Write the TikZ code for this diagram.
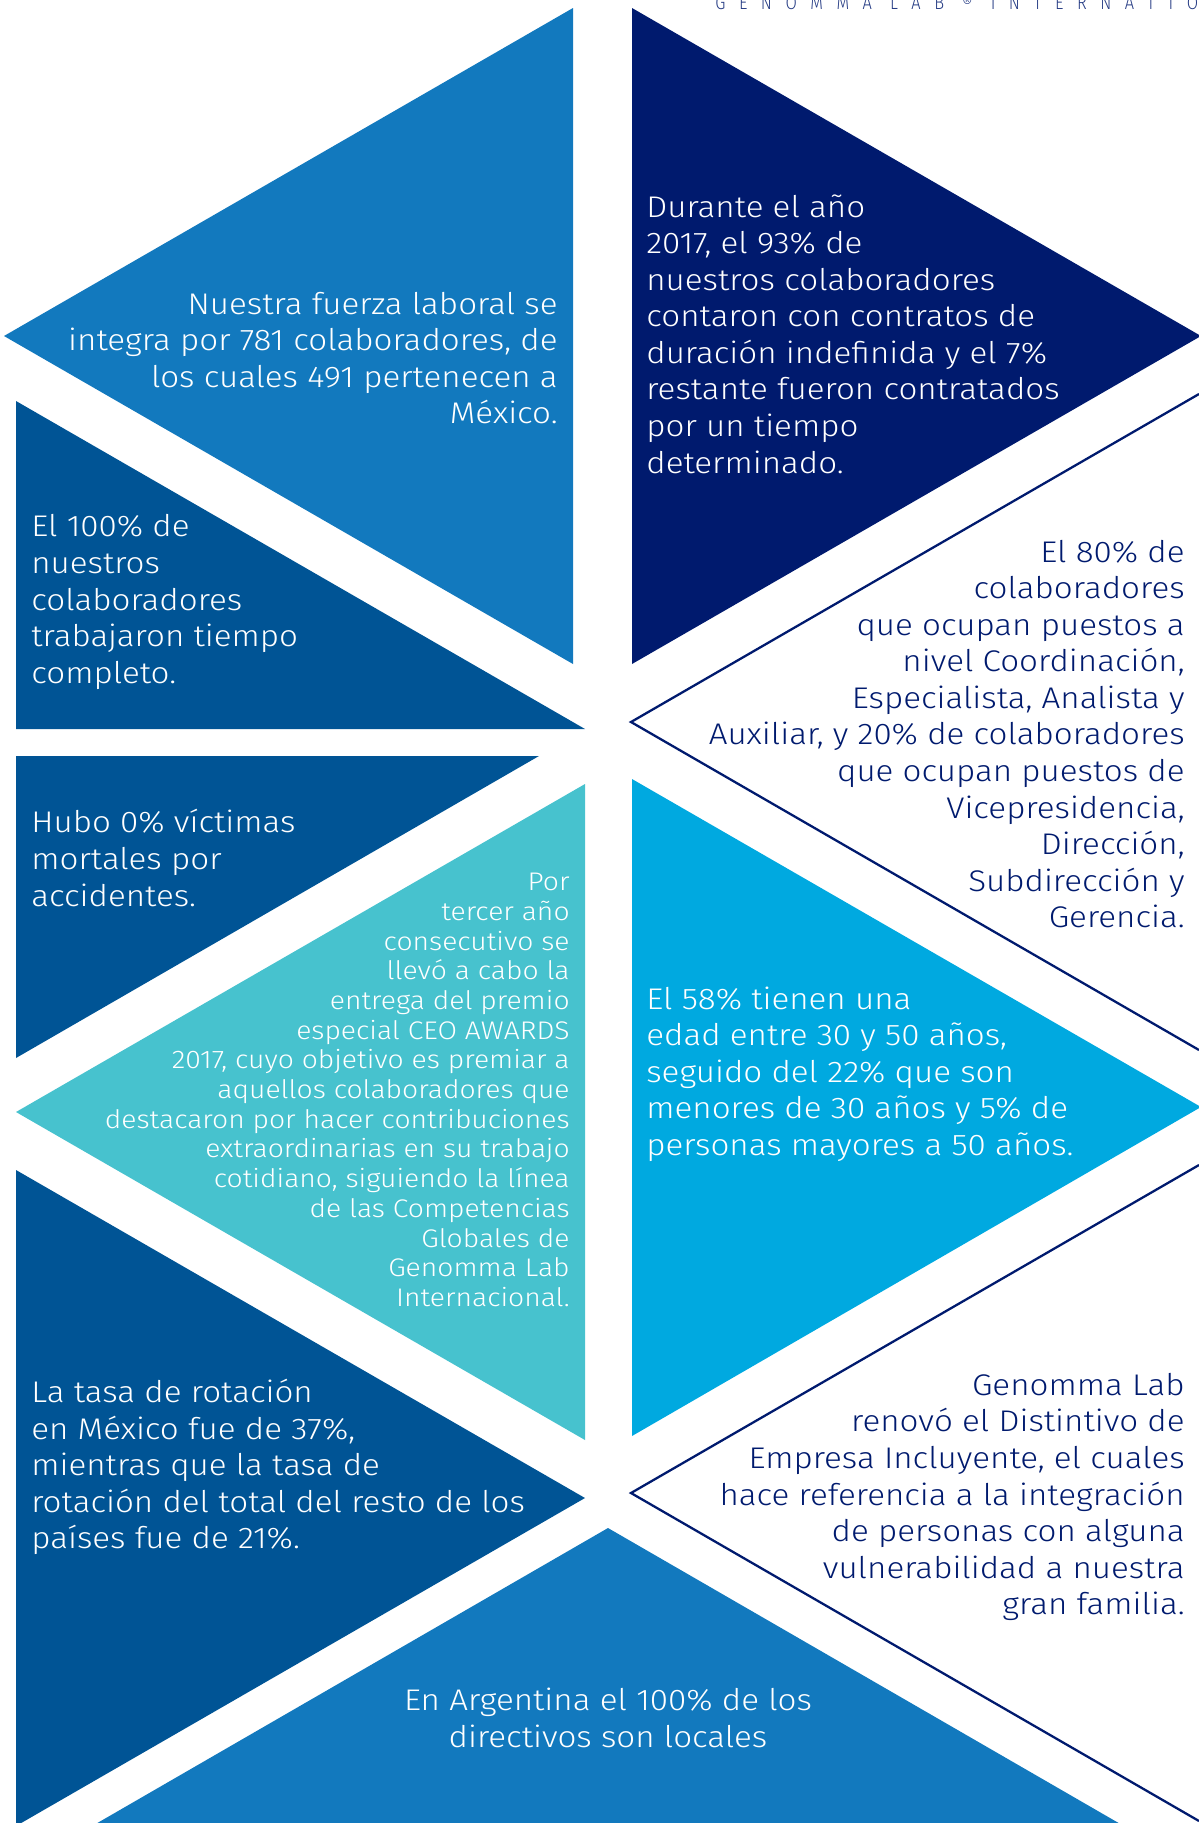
\documentclass[tikz,border=0pt]{standalone}
\usepackage{fontspec}
\setmainfont{Fira Sans Light}[FakeStretch=1.11]
\newfontfamily\headfont{Fira Sans Light}[FakeStretch=0.85, LetterSpace=70]
\definecolor{gmblue}{HTML}{1279BE}
\definecolor{gmnavy}{HTML}{001A6E}
\definecolor{gmdark}{HTML}{005495}
\definecolor{gmteal}{HTML}{47C2CE}
\definecolor{gmcyan}{HTML}{00A9E0}

\begin{document}
\begin{tikzpicture}[x=0.02cm, y=-0.02cm,
                    every node/.style={inner sep=0pt},
                    bigtxt/.style={font=\fontsize{17}{20.8}\selectfont},
                    smalltxt/.style={font=\fontsize{14.5}{16.9}\selectfont},
                    onleft/.style={anchor=west, align=left},
                    onright/.style={anchor=east, align=right},
                    rim/.style={draw=gmnavy, line width=1.3pt}]
\useasboundingbox (0, 0) rectangle (1199, 1823);
\clip (0, 0) rectangle (1199, 1823);
\fill[gmblue] (573, 8) -- (4, 336) -- (573, 664) -- cycle;
\fill[gmnavy] (632, 8) -- (1201, 336) -- (632, 664) -- cycle;
\fill[gmdark] (16, 401) -- (585, 729) -- (16, 729) -- cycle;
\fill[gmdark] (16, 756) -- (539, 756) -- (16, 1058) -- cycle;
\fill[gmteal] (585, 784) -- (16, 1112) -- (585, 1440) -- cycle;
\fill[gmcyan] (632, 779) -- (1201, 1107) -- (632, 1436) -- cycle;
\fill[gmdark] (16, 1170) -- (585, 1498) -- (16, 1826) -- cycle;
\fill[gmblue] (608, 1528) -- (61, 1844) -- (1155, 1844) -- cycle;
\draw[rim] (1199, 394) -- (631, 722) -- (1199, 1050);
\draw[rim] (1199, 1165) -- (631, 1493) -- (1199, 1821);

\node[anchor=base west, text=gmnavy!85, font=\headfont\fontsize{11}{11}\selectfont] (head) at (715, 9.5) {GENOMMA LAB ® INTERNATIONAL};

\begin{scope}[text=white]
\node[bigtxt, onright] (fuerza) at (558, 358) {Nuestra fuerza laboral se\\integra por 781 colaboradores, de\\los cuales 491 pertenecen a\\México.};
\node[bigtxt, onleft] (contratos) at (646, 334) {Durante el año\\2017, el 93\% de\\nuestros colaboradores\\contaron con contratos de\\duración indefinida y el 7\%\\restante fueron contratados\\por un tiempo\\determinado.};
\node[bigtxt, onleft] (completo) at (31, 602) {El 100\% de\\nuestros\\colaboradores\\trabajaron tiempo\\completo.};
\node[bigtxt, onleft] (victimas) at (31, 858) {Hubo 0\% víctimas\\mortales por\\accidentes.};
\node[smalltxt, onright] (premio) at (570, 1090) {Por\\tercer año\\consecutivo se\\llevó a cabo la\\entrega del premio\\especial CEO AWARDS\\2017, cuyo objetivo es premiar a\\aquellos colaboradores que\\destacaron por hacer contribuciones\\extraordinarias en su trabajo\\cotidiano, siguiendo la línea\\de las Competencias\\Globales de\\Genomma Lab\\Internacional.};
\node[bigtxt, onleft] (edad) at (646, 1074) {El 58\% tienen una\\edad entre 30 y 50 años,\\seguido del 22\% que son\\menores de 30 años y 5\% de\\personas mayores a 50 años.};
\node[bigtxt, onleft] (rotacion) at (31, 1467) {La tasa de rotación\\en México fue de 37\%,\\mientras que la tasa de\\rotación del total del resto de los\\países fue de 21\%.};
\node[bigtxt, align=center] (argentina) at (608, 1718) {En Argentina el 100\% de los\\directivos son locales};
\end{scope}

\begin{scope}[text=gmnavy]
\node[bigtxt, onright] (puestos) at (1185, 734) {El 80\% de\\colaboradores\\que ocupan puestos a\\nivel Coordinación,\\Especialista, Analista y\\Auxiliar, y 20\% de colaboradores\\que ocupan puestos de\\Vicepresidencia,\\Dirección,\\Subdirección y\\Gerencia.};
\node[bigtxt, onright] (distintivo) at (1185, 1497) {Genomma Lab\\renovó el Distintivo de\\Empresa Incluyente, el cuales\\hace referencia a la integración\\de personas con alguna\\vulnerabilidad a nuestra\\gran familia.};
\end{scope}
\end{tikzpicture}
\end{document}
